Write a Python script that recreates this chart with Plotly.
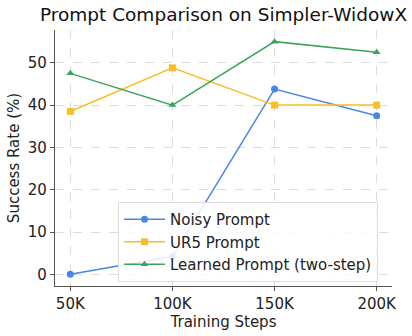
import plotly.graph_objects as go

steps = ["50K", "100K", "150K", "200K"]
noisy_prompt = [0.0, 4.2, 43.8, 37.5]
ur5_prompt = [38.5, 48.8, 40.0, 40.0]
learned_prompt = [47.5, 40.0, 55.0, 52.5]
y_ticks = [0, 10, 20, 30, 40, 50]

x_idx = list(range(len(steps)))

series = [
    ("Noisy Prompt", noisy_prompt, "#4a86e8", "circle"),
    ("UR5 Prompt", ur5_prompt, "#f6c026", "square"),
    ("Learned Prompt (two-step)", learned_prompt, "#3da35d", "triangle-up"),
]

fig = go.Figure()
for name, vals, color, symbol in series:
    fig.add_trace(go.Scatter(
        x=x_idx, y=vals, name=name, mode="lines+markers",
        line=dict(color=color, width=1.5),
        marker=dict(color=color, symbol=symbol, size=7),
    ))

font = "DejaVu Sans, sans-serif"
fig.update_layout(
    width=412, height=336,
    margin=dict(l=55, r=20, t=30, b=50),
    paper_bgcolor="white", plot_bgcolor="white",
    font=dict(family=font, size=15, color="#222"),
    title=dict(text="Prompt Comparison on Simpler-WidowX", x=0.5425, xanchor="center",
               y=0.975, yanchor="top", font=dict(size=18.5, color="#111")),
    legend=dict(x=0.187, y=0.328, xanchor="left", yanchor="top",
                bgcolor="rgba(255,255,255,0.85)", bordercolor="#dddddd", borderwidth=1,
                itemwidth=41, font=dict(size=15, color="#222")),
    showlegend=True,
)
fig.update_xaxes(
    range=[-0.15, 3.15], tickmode="array", tickvals=x_idx, ticktext=steps,
    showline=True, linecolor="#555", linewidth=1.2,
    ticks="outside", ticklen=4, tickcolor="#555",
    showgrid=True, gridcolor="#dddddd", griddash="dash", gridwidth=0.8,
    zeroline=False, tickfont=dict(size=15), automargin=False,
    title=dict(text="Training Steps", font=dict(size=15), standoff=2),
)
fig.update_yaxes(
    range=[-2.75, 57.75], tickmode="array", tickvals=y_ticks,
    showline=True, linecolor="#555", linewidth=1.2,
    ticks="outside", ticklen=4, tickcolor="#555",
    showgrid=True, gridcolor="#dddddd", griddash="dash", gridwidth=0.8,
    zeroline=False, tickfont=dict(size=15), automargin=False,
    title=dict(text="Success Rate (%)", font=dict(size=15), standoff=4),
)

fig.write_html("out.html")
